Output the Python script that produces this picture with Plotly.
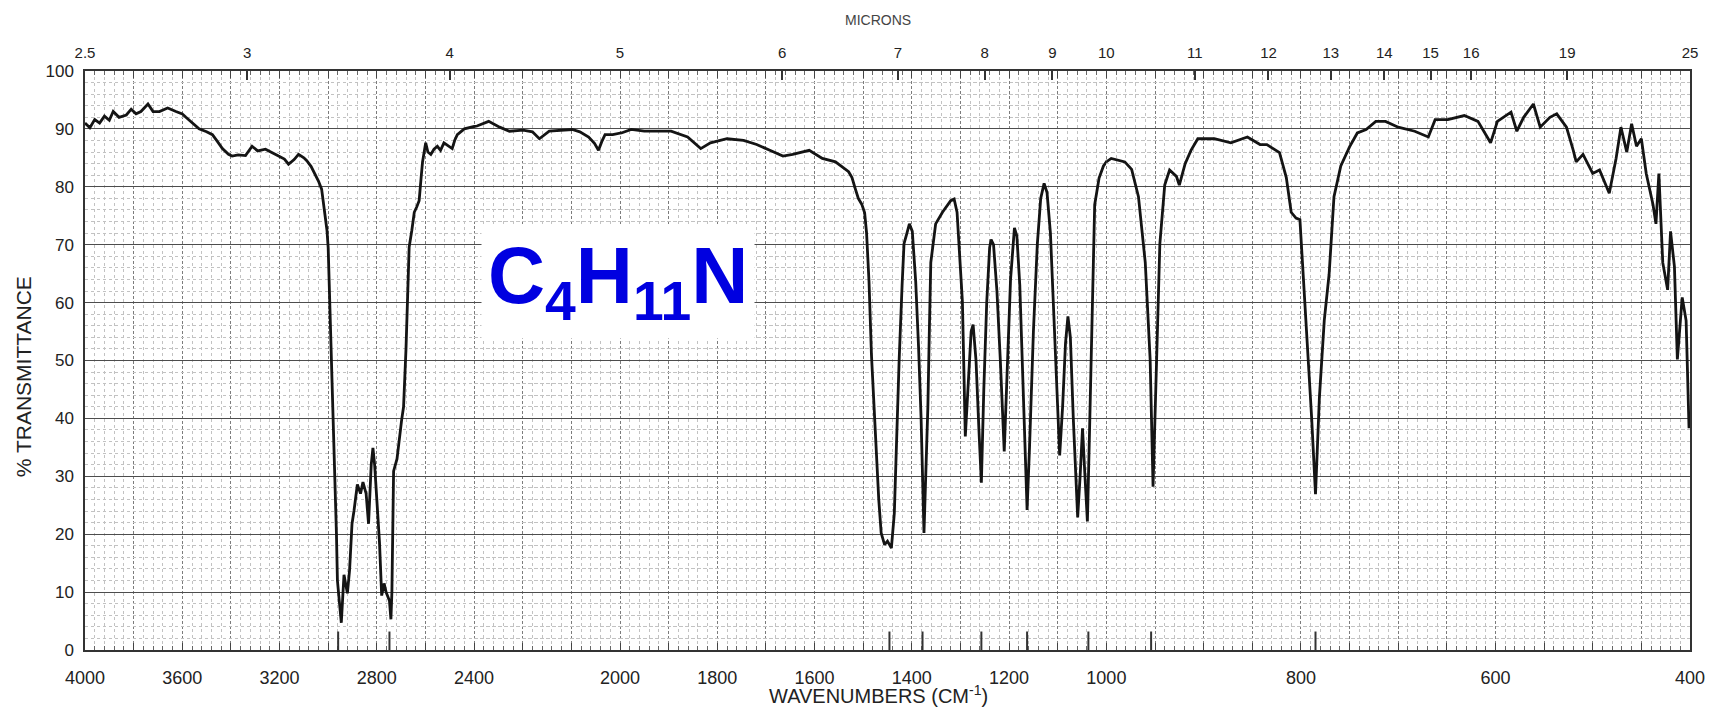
import plotly.graph_objects as go

# ---------------- data ----------------
WAVENUMBER = [
    4000, 3980, 3960, 3940, 3920, 3900, 3884, 3860, 3830, 3810, 3790, 3770, 3741, 3720, 3694, 3660,
    3626, 3600, 3585, 3560, 3531, 3500, 3476, 3455, 3435, 3410, 3395, 3370, 3340, 3313, 3290, 3258,
    3230, 3204, 3180, 3163, 3140, 3122, 3100, 3088, 3070, 3054, 3040, 3027, 3014, 3005, 3000, 2993,
    2986, 2980, 2973, 2966, 2962, 2954, 2946, 2935, 2921, 2912, 2902, 2894, 2880, 2867, 2857, 2844,
    2834, 2823, 2816, 2809, 2799, 2789, 2780, 2770, 2762, 2748, 2742, 2738, 2731, 2717, 2698, 2690,
    2680, 2673, 2667, 2656, 2646, 2636, 2626, 2618, 2612, 2599, 2590, 2578, 2565, 2551, 2538, 2524,
    2505, 2490, 2480, 2469, 2440, 2415,
    2392, 2360, 2330, 2303, 2266, 2240, 2221, 2194, 2160, 2131, 2110, 2086, 2070, 2059, 2050, 2041,
    2020, 1997,
    1977, 1950, 1929, 1895, 1861, 1845, 1834, 1814, 1780, 1746, 1719, 1692, 1665, 1645, 1611, 1584,
    1557, 1530, 1523, 1516, 1510, 1503, 1497, 1493, 1488, 1483, 1478, 1473, 1468, 1463, 1456, 1450,
    1442, 1436, 1431, 1426, 1420, 1416, 1410, 1405, 1399, 1392, 1386, 1381, 1375, 1370, 1367, 1364,
    1361, 1351, 1337, 1320, 1313, 1307, 1302, 1296, 1290, 1284, 1278, 1274, 1268, 1262, 1257, 1252,
    1246, 1240, 1237, 1232, 1225, 1218, 1210, 1204, 1197, 1189, 1184, 1178, 1172, 1167, 1163, 1158,
    1150, 1142, 1135, 1128, 1122, 1115, 1108, 1100, 1096, 1090, 1084, 1079, 1074, 1068, 1063, 1059,
    1054, 1049, 1044, 1039, 1034, 1029, 1024, 1015, 1006,
    995, 988, 981, 974, 967, 960, 955, 952, 948, 945, 940, 935, 928, 925, 919, 913,
    906, 889, 872, 855, 842, 835, 822, 815, 810, 805, 801, 798, 795, 789, 785, 781,
    776, 771, 766, 759, 750, 742, 733, 723, 713, 700, 683, 669, 662, 649, 632, 618,
    605, 598, 584, 578, 571, 561, 554, 544, 537, 527, 520, 517, 510, 500, 493, 483,
    476, 471, 465, 460, 455, 450, 445, 438, 435, 432, 428, 423, 420, 416, 413, 408,
    404, 401,
]
TRANSMITTANCE = [
    91.0, 90.2, 91.6, 91.0, 92.2, 91.5, 93.0, 92.0, 92.4, 93.4, 92.6, 93.0, 94.3, 93.0, 93.0, 93.6,
    93.0, 92.6, 92.0, 91.0, 90.0, 89.5, 89.0, 87.8, 86.6, 85.6, 85.3, 85.5, 85.4, 87.0, 86.2, 86.5,
    85.8, 85.3, 84.8, 83.9, 84.7, 85.6, 85.0, 84.5, 83.5, 82.3, 81.0, 79.6, 75.6, 72.5, 69.5, 60.0,
    50.0, 40.0, 30.0, 20.0, 12.0, 8.5, 4.7, 13.0, 9.8, 13.8, 21.8, 24.0, 28.6, 27.0, 29.0, 27.0,
    21.8, 32.0, 34.9, 32.0, 26.0, 18.6, 9.4, 11.5, 10.0, 8.5, 5.3, 10.0, 30.9, 33.0, 39.7, 42.0,
    52.0, 64.0, 69.6, 72.5, 75.6, 76.5, 77.6, 81.5, 84.3, 87.6, 86.0, 85.6, 86.5, 87.0, 86.3, 87.6,
    87.0, 86.6, 88.0, 89.0, 90.0, 90.3,
    90.5, 91.3, 90.3, 89.6, 89.8, 89.5, 88.3, 89.6, 89.8, 89.9, 89.5, 88.6, 87.5, 86.3, 87.8, 89.0,
    89.0, 89.3,
    89.9, 89.6, 89.6, 89.6, 88.6, 87.5, 86.6, 87.6, 88.3, 88.0, 87.3, 86.3, 85.3, 85.6, 86.3, 84.9,
    84.3, 82.6, 81.6, 79.6, 78.0, 77.0, 75.5, 72.0, 63.6, 51.0, 42.0, 33.6, 26.0, 20.2, 18.2, 18.8,
    17.6, 23.6, 38.0, 50.2, 63.0, 70.2, 72.0, 73.6, 72.3, 63.6, 52.0, 40.2, 20.2, 32.0, 42.0, 55.0,
    66.9, 73.6, 75.6, 77.6, 77.9, 75.6, 69.0, 60.2, 36.9, 45.0, 55.0, 56.2, 50.0, 38.0, 28.9, 45.0,
    60.0, 69.5, 70.9, 70.0, 62.0, 50.0, 34.3, 48.0, 64.0, 72.9, 71.5, 63.0, 48.0, 32.0, 24.2, 35.0,
    55.0, 70.0, 78.0, 80.6, 79.0, 72.0, 58.0, 42.0, 33.6, 42.0, 53.0, 57.6, 54.0, 40.0, 30.0, 22.9,
    30.0, 38.3, 30.0, 22.2, 40.0, 58.2, 76.9, 81.5, 83.6,
    84.9, 84.6, 84.3, 83.0, 78.3, 66.9, 50.2, 28.2, 50.2, 70.2, 80.3, 82.9, 81.8, 80.3, 84.0, 86.3,
    88.3, 88.3, 87.6, 88.6, 87.3, 87.3, 85.9, 81.6, 75.6, 74.6, 74.3, 66.2, 56.9, 40.2, 26.9, 43.6,
    56.9, 64.9, 78.3, 83.6, 86.9, 89.3, 89.9, 91.3, 91.3, 90.3, 89.6, 88.6, 91.6, 91.6, 92.3, 91.3,
    87.6, 91.3, 92.9, 89.6, 92.0, 94.3, 90.3, 92.0, 92.6, 90.3, 86.3, 84.3, 85.6, 82.3, 82.9, 78.9,
    84.9, 90.3, 86.0, 90.9, 87.0, 88.3, 82.3, 76.9, 73.6, 82.3, 66.9, 62.2, 72.3, 66.2, 50.2, 60.9,
    56.9, 38.3,
]
PEAK_MARKS = [2959, 2748, 1446, 1378, 1257, 1163, 1037, 954, 785]

# chart-paper scale: (start cm-1, end cm-1, number of grid columns)
SEGMENTS = [(4000, 2400, 8), (2400, 2000, 3), (2000, 1000, 10), (1000, 400, 12)]
WN_TICKS = [4000, 3600, 3200, 2800, 2400, 2000, 1800, 1600, 1400, 1200, 1000, 800, 600, 400]
MICRON_TICKS = [2.5, 3, 4, 5, 6, 7, 8, 9, 10, 11, 12, 13, 14, 15, 16, 19, 25]
Y_TICKS = [0, 10, 20, 30, 40, 50, 60, 70, 80, 90, 100]

FONT = "Liberation Sans, Arial, sans-serif"
TXT = "#222222"

total_cols = sum(s[2] for s in SEGMENTS)
fig = go.Figure()

layout = dict(
    width=1722, height=716,
    margin=dict(l=85, r=14, t=71, b=66),
    paper_bgcolor="white", plot_bgcolor="rgba(0,0,0,0)",
    showlegend=False,
    font=dict(family=FONT, color=TXT),
)

# uniform chart-paper grid axis
layout["xaxis"] = dict(
    domain=[0, 1], range=[0, total_cols], anchor="y",
    showticklabels=False, zeroline=False,
    showgrid=True, tick0=0, dtick=1, gridcolor="#7c7c7c", gridwidth=1, griddash="3px,2px",
    ticks="inside", ticklen=7, tickcolor="#444", tickwidth=1,
    minor=dict(dtick=0.2, showgrid=True, gridcolor="#c2c2c2", griddash="dot", gridwidth=1,
               ticks="inside", ticklen=4, tickcolor="#666"),
    showline=True, linecolor="#333", linewidth=1.5, mirror="ticks",
)
layout["yaxis"] = dict(
    domain=[0, 1], range=[0, 100], anchor="x",
    tickvals=Y_TICKS, ticks="", ticklabelstandoff=6,
    tickfont=dict(size=17, color=TXT, family=FONT),
    showgrid=True, gridcolor="#4d4d4d", gridwidth=1.4, zeroline=False,
    minor=dict(dtick=2, showgrid=True, gridcolor="#c2c2c2", griddash="dot", gridwidth=1),
    showline=True, linecolor="#333", linewidth=1.5, mirror=True,
)

# empty trace so the paper-grid subplot is built (no visible marks)
fig.add_trace(go.Scatter(x=[0, total_cols], y=[None, None], xaxis="x", yaxis="y",
                         mode="lines", hoverinfo="skip"))

used_wn, used_mu = set(), set()
col = 0
for i, (a, b, n) in enumerate(SEGMENTS):
    d0 = col / total_cols
    col += n
    d1 = col / total_cols
    lo, hi = min(a, b), max(a, b)
    wn_t = [w for w in WN_TICKS if lo <= w <= hi and w not in used_wn]
    used_wn.update(wn_t)
    ax = i + 2
    axdef = dict(
        domain=[d0, d1], range=[a, b], anchor="y",
        showgrid=False, zeroline=False, showline=False,
    )
    if wn_t:
        axdef.update(
            tickvals=wn_t, ticktext=[str(w) for w in wn_t],
            ticks="outside", ticklen=3, tickcolor="rgba(0,0,0,0)", ticklabelstandoff=8,
            tickfont=dict(size=18, color=TXT, family=FONT),
        )
    else:
        axdef.update(showticklabels=False, ticks="")
    layout[f"xaxis{ax}"] = axdef
    mu_t = [m for m in MICRON_TICKS if lo <= 10000 / m <= hi and m not in used_mu]
    used_mu.update(mu_t)
    if mu_t:
        tax = i + 6
        layout[f"xaxis{tax}"] = dict(
            overlaying=f"x{ax}", side="top", anchor="y", range=[a, b],
            tickvals=[10000 / m for m in mu_t], ticktext=[f"{m:g}" for m in mu_t],
            ticks="inside", ticklen=9, tickwidth=2, tickcolor="#333", ticklabelstandoff=9,
            tickfont=dict(size=15, color=TXT, family=FONT),
            showgrid=False, zeroline=False, showline=False,
        )
        fig.add_trace(go.Scatter(x=[a, b], y=[None, None], xaxis=f"x{tax}", yaxis="y",
                                 mode="lines", hoverinfo="skip"))
    fig.add_trace(go.Scatter(
        x=WAVENUMBER, y=TRANSMITTANCE, xaxis=f"x{ax}", yaxis="y",
        mode="lines", line=dict(color="#141414", width=2.8), hoverinfo="skip",
    ))
    fig.add_trace(go.Scatter(
        x=PEAK_MARKS, y=[1.5] * len(PEAK_MARKS), xaxis=f"x{ax}", yaxis="y",
        mode="markers",
        marker=dict(symbol="line-ns-open", size=14, color="#333", line=dict(width=2, color="#333")),
        hoverinfo="skip",
    ))

layout["annotations"] = [
    dict(text="C<sub>4</sub>H<sub>11</sub>N", x=0.332, y=0.637, xref="paper", yref="paper",
         xanchor="center", yanchor="middle", showarrow=False,
         font=dict(family="Liberation Sans, Arial, sans-serif", size=79, color="#0000e0", weight="bold"),
         bgcolor="white", borderpad=6),
    dict(text="MICRONS", x=0.494, y=1.088, xref="paper", yref="paper", showarrow=False,
         xanchor="center", yanchor="middle", font=dict(size=14, color="#444", family=FONT)),
    dict(text="WAVENUMBERS (CM<sup>-1</sup>)", x=0.4945, y=-0.076, xref="paper", yref="paper",
         showarrow=False, xanchor="center", yanchor="middle",
         font=dict(size=20, color=TXT, family=FONT)),
    dict(text="% TRANSMITTANCE", x=-0.0385, y=0.4715, xref="paper", yref="paper",
         showarrow=False, textangle=-90, xanchor="center", yanchor="middle",
         font=dict(size=21, color=TXT, family=FONT)),
]

fig.update_layout(**layout)
fig.write_html("out.html")
